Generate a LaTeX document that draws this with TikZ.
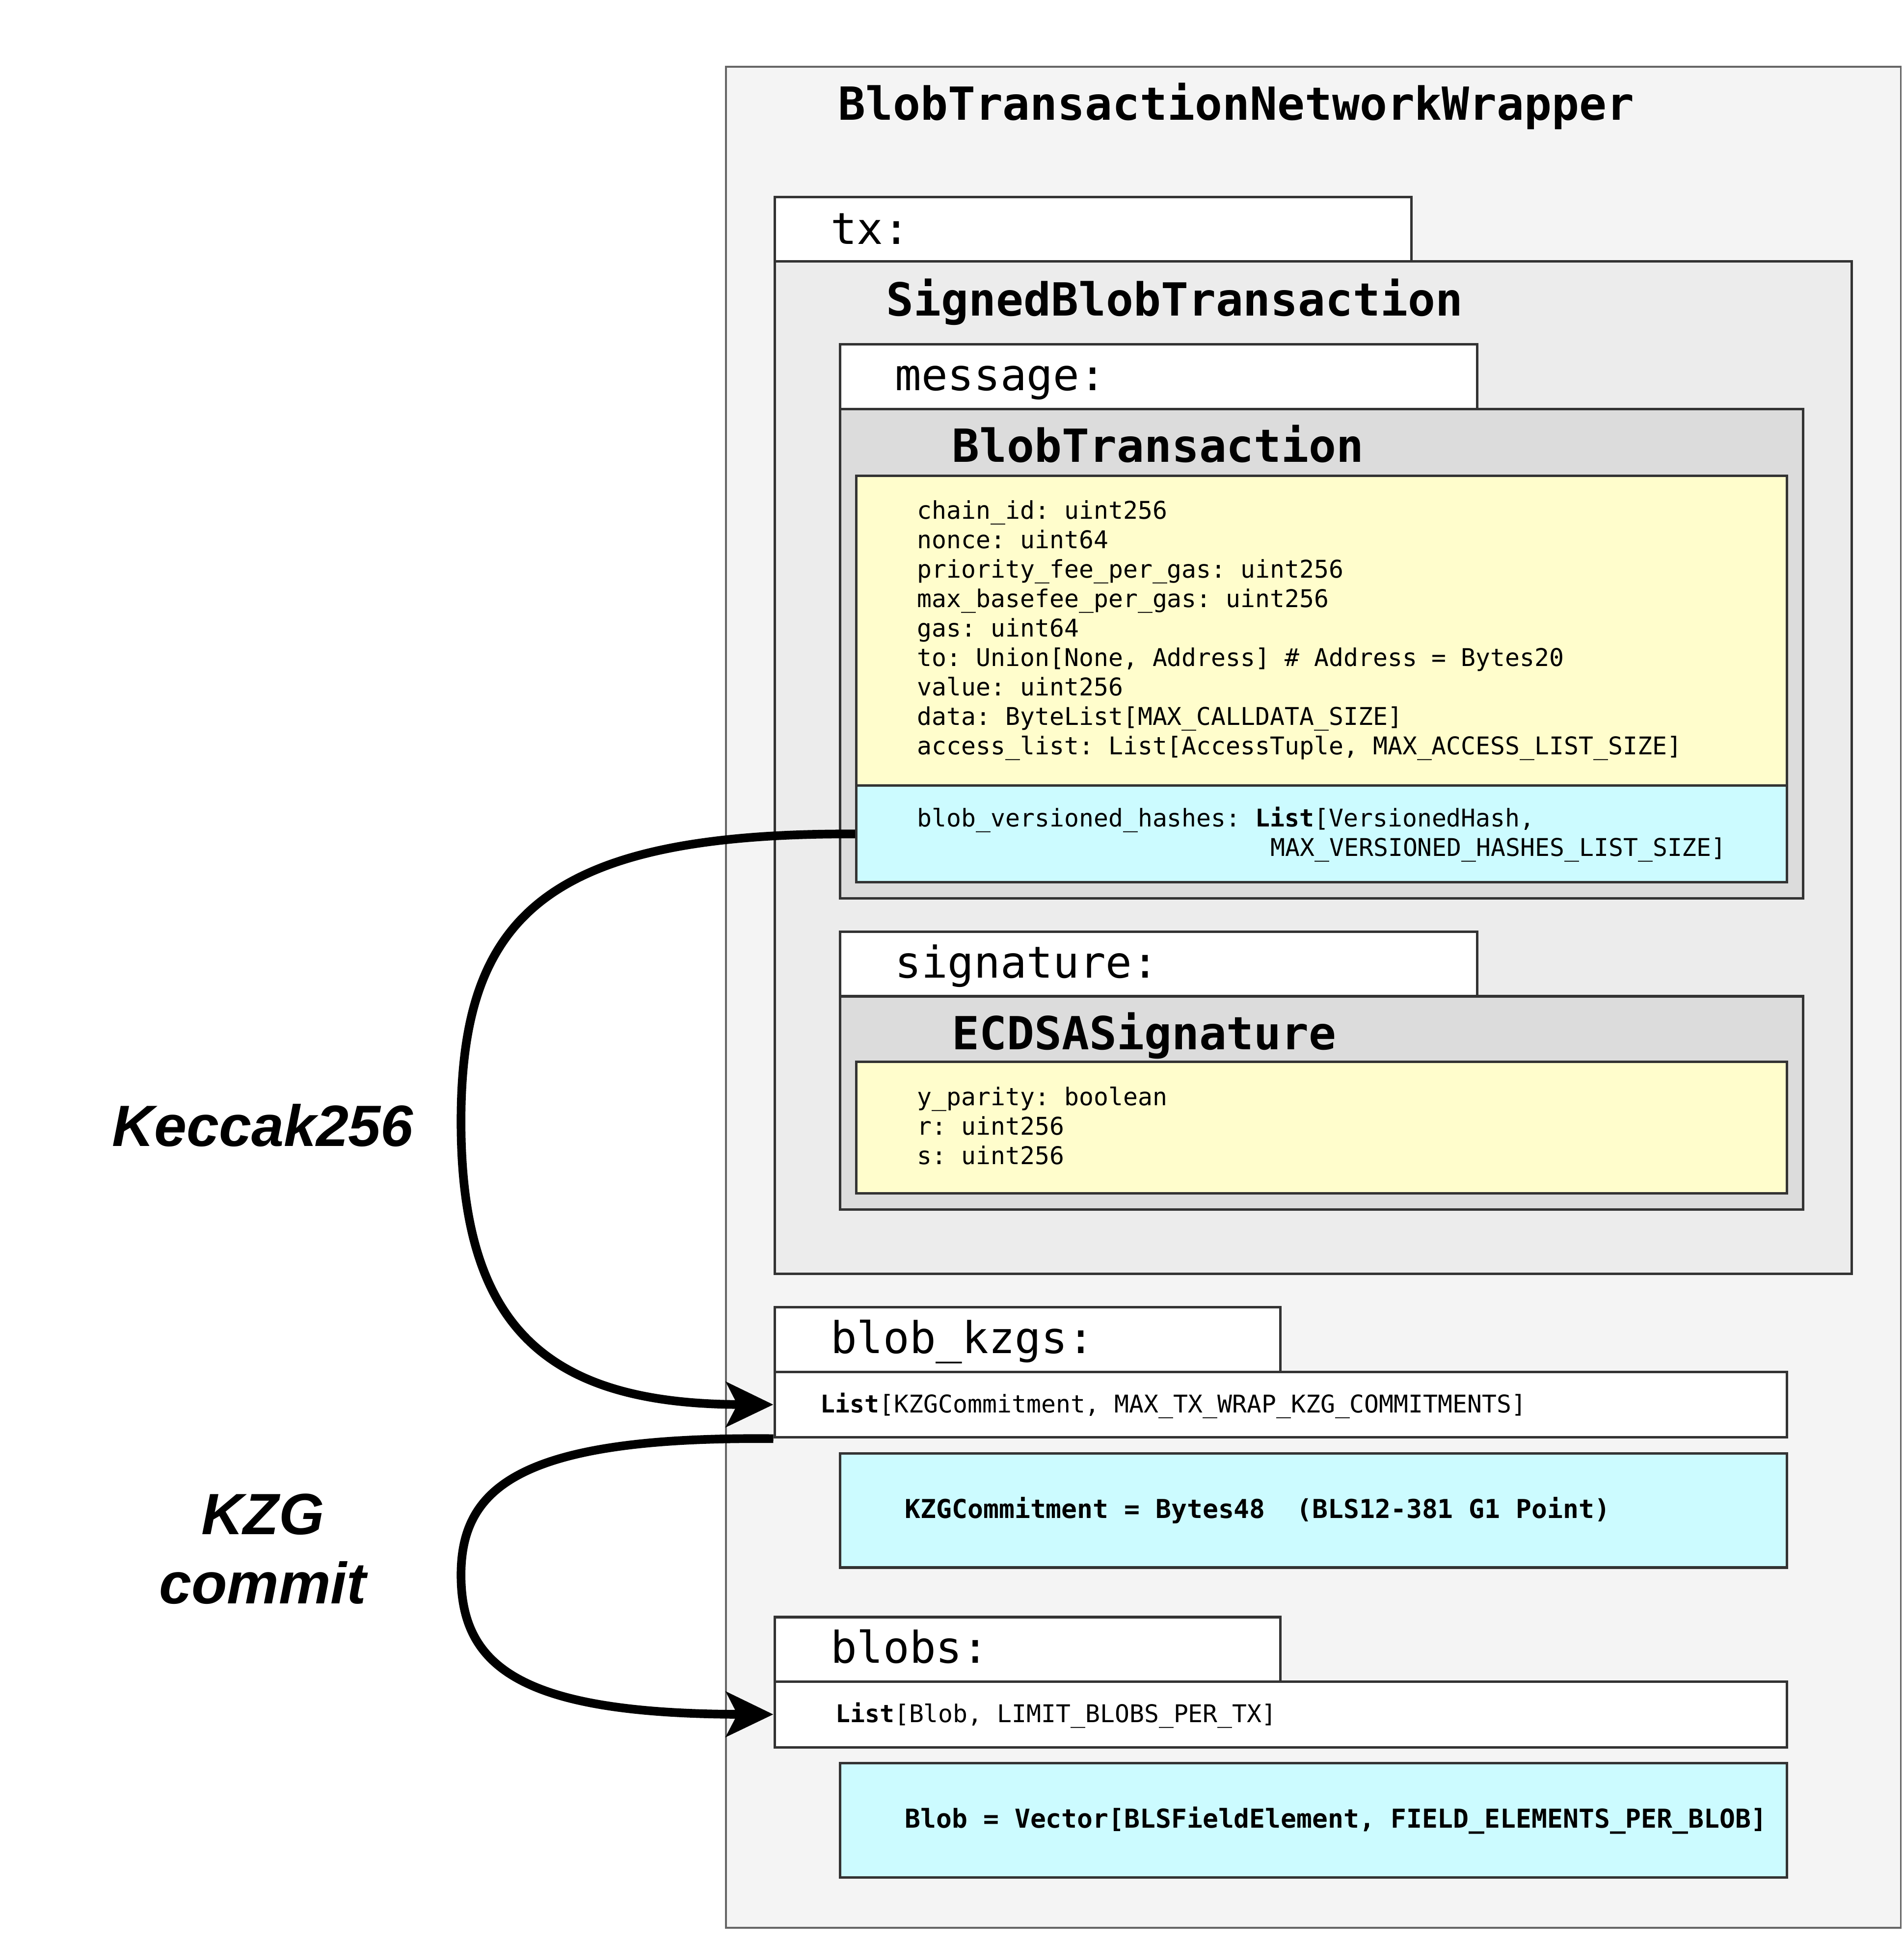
\documentclass[tikz,border=0pt]{standalone}
\usepackage{fontspec}
\setmainfont{Liberation Sans}
\setmonofont{DejaVu Sans Mono}
\usetikzlibrary{arrows.meta}
\definecolor{outerfill}{HTML}{F4F4F4}
\definecolor{signedfill}{HTML}{ECECEC}
\definecolor{txfill}{HTML}{DCDCDC}
\definecolor{yel}{HTML}{FFFDCC}
\definecolor{cya}{HTML}{CCFBFF}
\definecolor{edge}{HTML}{333333}
\definecolor{outeredge}{HTML}{666666}
\tikzset{
  box/.style={draw=edge, line width=2pt, rectangle, inner sep=0pt, anchor=north west},
  ttl/.style={anchor=base west, inner sep=0pt, font=\fontsize{36.8}{40}\selectfont\ttfamily\bfseries},
  tabtext/.style={anchor=base west, inner sep=0pt, font=\fontsize{35.3}{40}\selectfont\ttfamily},
  code/.style={anchor=base west, inner sep=0pt, font=\fontsize{19.7}{23}\selectfont\ttfamily},
  codeb/.style={anchor=base west, inner sep=0pt, font=\fontsize{21}{24}\selectfont\ttfamily\bfseries},
  lbl/.style={inner sep=0pt, align=center, font=\fontsize{47}{56}\selectfont\bfseries\itshape},
  flow/.style={line width=7pt, -{Stealth[length=38pt,width=36pt,inset=9pt]}},
}
\begin{document}
\begin{tikzpicture}[x=1pt,y=-1pt]
\useasboundingbox[fill=white] (0,0) rectangle (1536,1568);
% outer wrapper
\node[box, draw=outeredge, line width=1.5pt, fill=outerfill, minimum width=948pt, minimum height=1502pt] (outer) at (585,53) {};
\node[ttl] (outert) at (676,97) {BlobTransactionNetworkWrapper};
% tx
\node[box, fill=white, minimum width=514pt, minimum height=52pt] (txtab) at (624,158) {};
\node[tabtext] (txt) at (670,197) {tx:};
\node[box, fill=signedfill, minimum width=869pt, minimum height=817pt] (signed) at (624,210) {};
\node[ttl] (signedt) at (715,255) {SignedBlobTransaction};
% message
\node[box, fill=white, minimum width=514pt, minimum height=52pt] (msgtab) at (677,277) {};
\node[tabtext] (msgt) at (722,315) {message:};
\node[box, fill=txfill, minimum width=777pt, minimum height=395pt] (blobtx) at (677,329) {};
\node[ttl] (blobtxt) at (768,373) {BlobTransaction};
\node[box, fill=yel, minimum width=751pt, minimum height=250pt] (fields) at (690,383) {};
\node[box, fill=cya, minimum width=751pt, minimum height=78pt] (hashes) at (690,633) {};
\foreach \txt [count=\i from 0] in {
  {chain\_id: uint256},
  {nonce: uint64},
  {priority\_fee\_per\_gas: uint256},
  {max\_basefee\_per\_gas: uint256},
  {gas: uint64},
  {to: Union[None, Address] \# Address = Bytes20},
  {value: uint256},
  {data: ByteList[MAX\_CALLDATA\_SIZE]},
  {access\_list: List[AccessTuple, MAX\_ACCESS\_LIST\_SIZE]}}
  \node[code] (field\i) at (740,419+23.75*\i) {\txt};
\node[code] (hash1) at (740,667) {blob\_versioned\_hashes: \textbf{List}[VersionedHash,};
\node[code] (hash2) at (1025,691) {MAX\_VERSIONED\_HASHES\_LIST\_SIZE]};
% signature
\node[box, fill=white, minimum width=514pt, minimum height=52pt] (sigtab) at (677,751) {};
\node[tabtext] (sigt) at (722,789) {signature:};
\node[box, fill=txfill, minimum width=777pt, minimum height=172pt] (ecdsa) at (677,803) {};
\node[ttl] (ecdsat) at (768,847) {ECDSASignature};
\node[box, fill=yel, minimum width=751pt, minimum height=106pt] (sigfields) at (690,856) {};
\foreach \txt [count=\i from 0] in {{y\_parity: boolean},{r: uint256},{s: uint256}}
  \node[code] (sig\i) at (740,892+23.75*\i) {\txt};
% blob_kzgs
\node[box, fill=white, minimum width=408pt, minimum height=52pt] (kzgtab) at (624,1054) {};
\node[tabtext] (kzgt) at (670,1092) {blob\_kzgs:};
\node[box, fill=white, minimum width=817pt, minimum height=53pt] (kzglist) at (624,1106) {};
\node[code] (kzglistt) at (662,1140) {\textbf{List}[KZGCommitment, MAX\_TX\_WRAP\_KZG\_COMMITMENTS]};
\node[box, fill=cya, minimum width=764pt, minimum height=92pt] (kzgdef) at (677,1172) {};
\node[codeb] (kzgdeft) at (730,1225) {KZGCommitment = Bytes48\ \ (BLS12-381 G1 Point)};
% blobs
\node[box, fill=white, minimum width=408pt, minimum height=52pt] (blobstab) at (624,1304) {};
\node[tabtext] (blobst) at (670,1342) {blobs:};
\node[box, fill=white, minimum width=817pt, minimum height=53pt] (bloblist) at (624,1356) {};
\node[code] (bloblistt) at (674,1390) {\textbf{List}[Blob, LIMIT\_BLOBS\_PER\_TX]};
\node[box, fill=cya, minimum width=764pt, minimum height=92pt] (blobdef) at (677,1422) {};
\node[codeb] (blobdeft) at (730,1475) {Blob = Vector[BLSFieldElement, FIELD\_ELEMENTS\_PER\_BLOB]};
% labels
\node[lbl] (keccak) at (212,908) {Keccak256};
\node[lbl] (kzgc) at (212,1250) {KZG\\commit};
% connectors
\draw[flow] (hashes.west) .. controls (440,672) and (372,740) .. (372,905)
  .. controls (372,1070) and (440,1133) .. (kzglist.west);
\draw[flow] (kzglist.south west) .. controls (420,1159) and (372,1200) .. (372,1271)
  .. controls (372,1345) and (420,1383) .. (bloblist.west);
\end{tikzpicture}
\end{document}
